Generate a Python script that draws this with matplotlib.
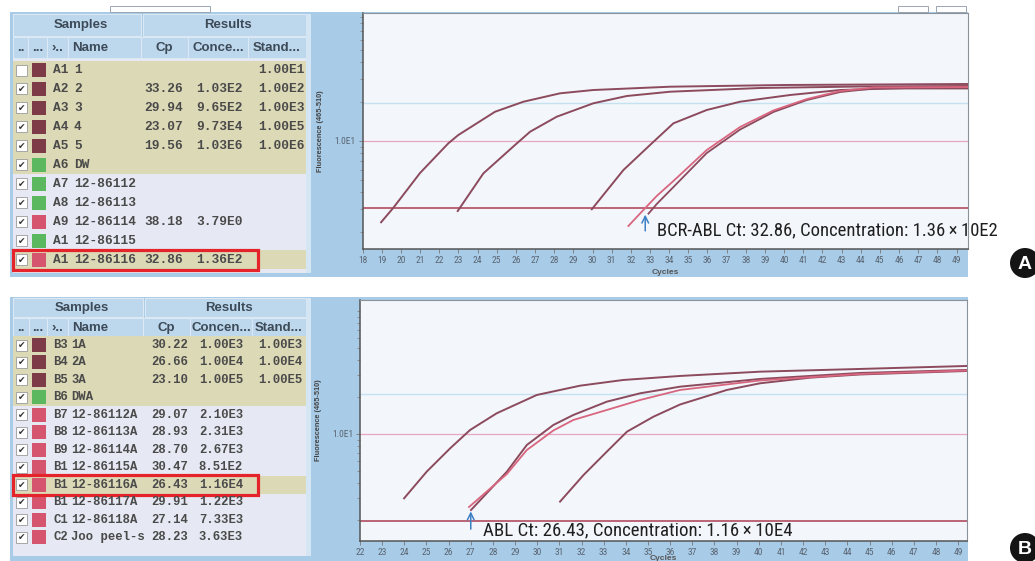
import matplotlib
matplotlib.use("Agg")
import matplotlib.pyplot as plt
from matplotlib.patches import Rectangle, Circle
from matplotlib.ticker import FixedLocator, NullFormatter

# ======================= DATA =======================
# ---- Panel A table ----
a_wells = ["A1", "A2", "A3", "A4", "A5", "A6", "A7", "A8", "A9", "A1", "A1"]
a_names = ["1", "2", "3", "4", "5", "DW", "12-86112", "12-86113", "12-86114", "12-86115", "12-86116"]
a_cp = ["", "33.26", "29.94", "23.07", "19.56", "", "", "", "38.18", "", "32.86"]
a_conc = ["", "1.03E2", "9.65E2", "9.73E4", "1.03E6", "", "", "", "3.79E0", "", "1.36E2"]
a_std = ["1.00E1", "1.00E2", "1.00E3", "1.00E5", "1.00E6", "", "", "", "", "", ""]
a_kind = ["std", "std", "std", "std", "std", "neg", "neg", "neg", "unk", "neg", "unk"]
a_checked = [False, True, True, True, True, True, True, True, True, True, True]
a_rowbg = ["b", "b", "b", "b", "b", "b", "p", "p", "p", "p", "b"]
a_selected = 10

# ---- Panel B table ----
b_wells = ["B3", "B4", "B5", "B6", "B7", "B8", "B9", "B1", "B1", "B1", "C1", "C2"]
b_names = ["1A", "2A", "3A", "DWA", "12-86112A", "12-86113A", "12-86114A", "12-86115A",
           "12-86116A", "12-86117A", "12-86118A", "Joo peel-s"]
b_cp = ["30.22", "26.66", "23.10", "", "29.07", "28.93", "28.70", "30.47", "26.43", "29.91", "27.14", "28.23"]
b_conc = ["1.00E3", "1.00E4", "1.00E5", "", "2.10E3", "2.31E3", "2.67E3", "8.51E2", "1.16E4", "1.22E3", "7.33E3", "3.63E3"]
b_std = ["1.00E3", "1.00E4", "1.00E5", "", "", "", "", "", "", "", "", ""]
b_kind = ["std", "std", "std", "neg", "unk", "unk", "unk", "unk", "unk", "unk", "unk", "unk"]
b_checked = [True] * 12
b_rowbg = ["b", "b", "b", "b", "p", "p", "p", "p", "b", "p", "p", "p"]
b_selected = 8

# ---- Panel A amplification curves (cycle, fluorescence) ----
a_cycles_range = (18, 49.6)
a_fluor_range = (1.47, 96.0)
a_threshold = 3.05
a_blue_line = 19.5
a_curve_std5_x = [18.96, 19.60, 20.99, 22.47, 22.99, 24.91, 26.39, 28.30, 30.04, 34.05, 40.0, 49.6]
a_curve_std5_y = [2.36, 3.05, 5.64, 9.55, 11.06, 16.71, 19.95, 23.15, 24.55, 26.03, 26.83, 27.31]
a_curve_std4_x = [22.96, 24.30, 25.95, 26.74, 28.13, 30.04, 31.79, 34.05, 38.75, 43.97, 49.6]
a_curve_std4_y = [2.88, 5.61, 9.27, 11.73, 15.30, 19.40, 22.08, 23.82, 25.44, 26.12, 26.35]
a_curve_std3_x = [29.96, 31.61, 33.00, 34.22, 35.96, 37.70, 40.31, 42.93, 46.41, 49.6]
a_curve_std3_y = [2.97, 5.95, 9.27, 13.61, 17.23, 19.95, 22.47, 24.55, 25.44, 25.67]
a_curve_std2_x = [32.92, 33.35, 34.22, 35.96, 37.70, 39.44, 41.19, 42.93, 44.67, 49.6]
a_curve_std2_y = [2.75, 3.26, 4.40, 8.04, 12.19, 16.63, 20.56, 23.69, 25.21, 25.21]
a_curve_pt_x = [31.87, 32.65, 33.35, 34.22, 35.96, 37.70, 39.44, 41.19, 42.93, 44.67, 49.6]
a_curve_pt_y = [2.21, 2.93, 3.76, 4.90, 8.48, 12.75, 17.08, 20.93, 24.12, 25.67, 25.88]
a_arrow_cycle = 32.75
a_label = "BCR-ABL Ct: 32.86, Concentration: 1.36\u2009\u00d7\u200910E2"

# ---- Panel B amplification curves ----
b_cycles_range = (22, 49.4)
b_fluor_range = (1.35, 122.7)
b_threshold = 1.97
b_blue_line = 21.1
b_curve_std3A_x = [23.99, 25.01, 26.07, 26.97, 28.17, 29.98, 31.94, 33.89, 36.45, 40.07, 44.58, 49.4]
b_curve_std3A_y = [3.00, 4.94, 7.65, 10.78, 14.73, 20.75, 24.70, 27.48, 29.62, 32.10, 33.77, 35.71]
b_curve_std2A_x = [27.01, 28.63, 29.53, 30.73, 31.63, 33.14, 34.65, 36.45, 40.07, 44.58, 49.4]
b_curve_std2A_y = [2.41, 4.94, 8.14, 11.84, 14.27, 18.30, 21.42, 24.24, 28.01, 31.33, 33.13]
b_curve_pt_x = [26.92, 28.63, 29.53, 30.73, 31.63, 33.14, 34.65, 36.45, 40.07, 44.58, 49.4]
b_curve_pt_y = [2.55, 4.73, 7.41, 10.68, 13.00, 15.67, 18.90, 22.79, 27.23, 30.74, 32.83]
b_curve_std1A_x = [31.03, 32.09, 33.14, 34.05, 35.25, 36.45, 38.56, 40.07, 42.33, 44.58, 49.4]
b_curve_std1A_y = [2.82, 4.64, 7.18, 10.44, 13.83, 17.37, 22.79, 25.84, 28.70, 30.46, 32.52]
b_arrow_cycle = 27.0
b_label = "ABL Ct: 26.43, Concentration: 1.16\u2009\u00d7\u200910E4"

# ======================= STYLE =======================
W, H = 1035, 561
FRAME = "#a8cbe7"
HEAD = "#bdd7ed"
BEIGE = "#dcd9b6"
PLAIN = "#e6e9f3"
TXT = "#4a4a4a"
MONO = ["Liberation Mono", "DejaVu Sans Mono"]
SANS = ["Liberation Sans", "DejaVu Sans"]
NARROW = ["Roboto Condensed", "Roboto", "DejaVu Sans"]
SWATCH = {"std": "#7d3a47", "neg": "#5cb85f", "unk": "#d5556e"}
STD_LINE = "#8c4a5d"
PT_LINE = "#d8667f"

fig = plt.figure(figsize=(W / 100, H / 100), dpi=100)
fig.patch.set_facecolor("white")
bg = fig.add_axes([0, 0, 1, 1], zorder=0)
bg.set_xlim(0, W)
bg.set_ylim(H, 0)
bg.axis("off")


def rect(x0, y0, x1, y1, **kw):
    bg.add_patch(Rectangle((x0, y0), x1 - x0, y1 - y0, **kw))


def draw_table(top, bottom, h1, h2, row0, step, wells, names, cps, concs, stds, kinds,
               checked, rowbg, selected, fs, name_x, cp_r, conc_r, std_r, conc_hdr, cols):
    rect(13, top, cols[4], top + h1, facecolor=HEAD, edgecolor="#dbe9f5", lw=0.8)
    rect(cols[4] + 2, top, 306, top + h1, facecolor=HEAD, edgecolor="#dbe9f5", lw=0.8)
    yc1 = top + h1 / 2
    bg.text((13 + cols[4]) / 2 + 4, yc1, "Samples", ha="center", va="center",
            fontsize=9.5, fontweight="bold", color="#3d4a57", family=SANS)
    bg.text((cols[4] + 306) / 2 + 4, yc1, "Results", ha="center", va="center",
            fontsize=9.5, fontweight="bold", color="#3d4a57", family=SANS)
    y2a, y2b = top + h1 + 1, top + h1 + 1 + h2
    labels = ["..", "...", "\u203a..", "Name", "Cp", conc_hdr, "Stand..."]
    for i in range(len(cols) - 1):
        rect(cols[i], y2a, cols[i + 1], y2b, facecolor=HEAD, edgecolor="#dbe9f5", lw=0.8)
    yc2 = (y2a + y2b) / 2
    for i, lab in enumerate(labels):
        if i == 3:
            bg.text(cols[i] + 4, yc2, lab, ha="left", va="center", fontsize=9.5,
                    fontweight="bold", color="#3d4a57", family=SANS)
        else:
            bg.text((cols[i] + cols[i + 1]) / 2, yc2, lab, ha="center", va="center",
                    fontsize=9.5, fontweight="bold", color="#3d4a57", family=SANS)
    rect(13, y2b + 1, 306, bottom, facecolor=PLAIN, edgecolor="none")
    rect(306, top, 311, bottom, facecolor="#d4e5f3", edgecolor="none")
    for i in range(len(wells)):
        cy = row0 + i * step
        if rowbg[i] == "b":
            rect(13, cy - step / 2, 306, cy + step / 2, facecolor=BEIGE, edgecolor="none")
        rect(16, cy - 5.5, 27, cy + 5.5, facecolor="white", edgecolor="#9a9a9a", lw=0.6)
        if checked[i]:
            bg.text(21.5, cy + 0.5, "\u2714", ha="center", va="center", fontsize=6.5,
                    color="#333333", family=["DejaVu Sans"])
        rect(32, cy - 7, 46, cy + 7, facecolor=SWATCH[kinds[i]], edgecolor="none")
        kw = dict(va="center", fontsize=fs, fontweight="bold", color=TXT, family=MONO)
        bg.text(53, cy, wells[i], ha="left", **kw)
        bg.text(name_x, cy, names[i], ha="left", **kw)
        bg.text(cp_r, cy, cps[i], ha="right", **kw)
        bg.text(conc_r, cy, concs[i], ha="right", **kw)
        bg.text(std_r, cy, stds[i], ha="right", **kw)
    cy = row0 + selected * step
    rect(13, cy - 10, 258, cy + 10.5, facecolor="none", edgecolor="#e5232b", lw=2.3)


def make_plot(left, right, top, bottom, xr, yr, thr, blue, ylab_x, cyc_y):
    ax = fig.add_axes([left / W, 1 - bottom / H, (right - left) / W, (bottom - top) / H], zorder=2)
    ax.set_facecolor("#f3f6fb")
    ax.set_yscale("log")
    ax.set_xlim(*xr)
    ax.set_ylim(*yr)
    ticks = list(range(int(xr[0]), int(xr[1]) + 1))
    ax.set_xticks(ticks)
    ax.set_xticklabels([str(t) for t in ticks], fontsize=6.8, color="#5a6572", family=NARROW)
    ax.set_yticks([10])
    ax.set_yticklabels(["1.0E1"], fontsize=6.8, color="#5a6572", family=NARROW)
    minors = [m for m in [2, 3, 4, 5, 6, 7, 8, 9, 20, 30, 40, 50, 60, 70, 80, 90, 100]
              if yr[0] < m < yr[1]]
    ax.yaxis.set_minor_locator(FixedLocator(minors))
    ax.yaxis.set_minor_formatter(NullFormatter())
    ax.tick_params(axis="both", which="major", length=3, width=0.6, color="#777777", pad=2)
    ax.tick_params(axis="y", which="minor", length=2, width=0.6, color="#888888")
    for s in ax.spines.values():
        s.set_color("#8a939c")
        s.set_linewidth(0.8)
    ax.spines["left"].set_color("#555555")
    ax.spines["bottom"].set_color("#555555")
    ax.spines["left"].set_linewidth(1.1)
    ax.spines["bottom"].set_linewidth(1.1)
    ax.set_xlabel("Cycles", fontsize=6, fontweight="bold", color="#555555", family=SANS)
    ax.xaxis.set_label_coords(0.5, -(cyc_y - bottom) / (bottom - top))
    ax.set_ylabel("Fluorescence (465-510)", fontsize=5.3, fontweight="bold", color="#444444",
                  family=SANS)
    ax.yaxis.set_label_coords(-(left - ylab_x) / (right - left), 0.5)
    ax.axhline(blue, color="#c4e2f0", lw=1.0, zorder=1)
    ax.axhline(10, color="#eba6bf", lw=0.9, zorder=1)
    ax.axhline(thr, color="#b5596a", lw=1.3, zorder=1)
    return ax


# ======================= PANEL A =======================
rect(10, 12, 968, 277, facecolor=FRAME, edgecolor="none")
rect(110, 6, 210, 12, facecolor="white", edgecolor="#9aa6b2", lw=0.7)
rect(898, 6, 928, 12, facecolor="white", edgecolor="#9aa6b2", lw=0.7)
rect(936, 6, 966, 12, facecolor="white", edgecolor="#9aa6b2", lw=0.7)
draw_table(14, 273, 22, 21, 70, 18.95, a_wells, a_names, a_cp, a_conc, a_std, a_kind,
           a_checked, a_rowbg, a_selected, 9.3, 74, 183, 243, 305, "Conce...",
           [13, 28, 47, 68, 141, 188, 248, 306])
axA = make_plot(362.7, 968, 13, 249, a_cycles_range, a_fluor_range, a_threshold, a_blue_line,
                324, 269)
axA.plot(a_curve_std5_x, a_curve_std5_y, color=STD_LINE, lw=1.4, zorder=3)
axA.plot(a_curve_std4_x, a_curve_std4_y, color=STD_LINE, lw=1.4, zorder=3)
axA.plot(a_curve_std3_x, a_curve_std3_y, color=STD_LINE, lw=1.4, zorder=3)
axA.plot(a_curve_std2_x, a_curve_std2_y, color=STD_LINE, lw=1.3, zorder=3)
axA.plot(a_curve_pt_x, a_curve_pt_y, color=PT_LINE, lw=1.3, zorder=4)
axA.annotate("", xy=(a_arrow_cycle, a_threshold * 0.93), xytext=(a_arrow_cycle, 1.93),
             arrowprops=dict(arrowstyle="->", color="#3f7fc4", lw=1.1, mutation_scale=12),
             annotation_clip=False, zorder=5)
axA.text(657, 230, a_label, transform=bg.transData, ha="left", va="center", fontsize=13.4,
         color="#1f1f1f", family=NARROW, clip_on=False, zorder=6)

# ======================= PANEL B =======================
rect(10, 297, 968, 561, facecolor=FRAME, edgecolor="none")
draw_table(298, 556, 19, 19, 345, 17.48, b_wells, b_names, b_cp, b_conc, b_std, b_kind,
           b_checked, b_rowbg, b_selected, 8.8, 71, 188, 243, 302, "Concen...",
           [13, 29, 47, 68, 143, 190, 252, 306])
axB = make_plot(360, 967, 300, 541, b_cycles_range, b_fluor_range, b_threshold, b_blue_line,
                322, 555)
axB.plot(b_curve_std3A_x, b_curve_std3A_y, color=STD_LINE, lw=1.4, zorder=3)
axB.plot(b_curve_std2A_x, b_curve_std2A_y, color=STD_LINE, lw=1.4, zorder=3)
axB.plot(b_curve_std1A_x, b_curve_std1A_y, color=STD_LINE, lw=1.4, zorder=3)
axB.plot(b_curve_pt_x, b_curve_pt_y, color=PT_LINE, lw=1.3, zorder=4)
axB.annotate("", xy=(b_arrow_cycle, b_curve_pt_y[0] * 0.97), xytext=(b_arrow_cycle, 1.6),
             arrowprops=dict(arrowstyle="->", color="#3f7fc4", lw=1.1, mutation_scale=12),
             annotation_clip=False, zorder=5)
axB.text(483, 530, b_label, transform=bg.transData, ha="left", va="center", fontsize=13.6,
         color="#1f1f1f", family=NARROW, clip_on=False, zorder=6)

# ======================= panel badges =======================
for lab, cy in [("A", 263), ("B", 548)]:
    bg.add_patch(Circle((1025, cy), 15, facecolor="#141414", edgecolor="none"))
    bg.text(1025, cy + 1, lab, ha="center", va="center", fontsize=14, fontweight="bold",
            color="white", family=SANS)

fig.savefig("out.png", dpi=100, facecolor="white")
